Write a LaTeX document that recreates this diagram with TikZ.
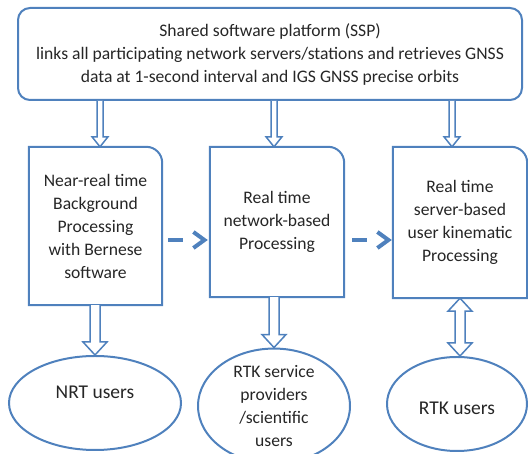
\documentclass[tikz,border=0pt]{standalone}
\usepackage{fontspec}
\setmainfont{Carlito}
\usetikzlibrary{calc,arrows.meta,shapes.geometric}
\definecolor{ob}{RGB}{79,129,189}
\newcommand\harrowdn[5]{%
  \draw[harrow] let \p1=(#1), \p2=(#2) in
    (\x2-#3,\y1) -- (\x2-#3,\y2+#5) -- (\x2-#4,\y2+#5) -- (\x2,\y2)
    -- (\x2+#4,\y2+#5) -- (\x2+#3,\y2+#5) -- (\x2+#3,\y1);}
\newcommand\procoutline[1]{%
  \draw[boxline] (#1.south west) -- (#1.north west) -- ([xshift=-16pt]#1.north east)
    arc[start angle=90,end angle=0,radius=16pt] -- (#1.south east) -- cycle;}
\begin{document}
\begin{tikzpicture}[x=1pt,y=1pt,
  every node/.style={font=\fontsize{17.6}{23}\selectfont, text=black!85},
  bigtext/.style={font=\fontsize{19.5}{23}\selectfont},
  topbox/.style={draw=ob, line width=2pt, rounded corners=12pt, minimum width=504pt, minimum height=92pt, align=center, inner sep=0pt},
  procbox/.style={align=center, inner sep=0pt},
  boxline/.style={draw=ob, line width=2pt},
  ell/.style={ellipse, draw=ob, line width=2pt, inner sep=0pt, align=center},
  harrow/.style={draw=ob, line width=1.5pt, fill=white, line join=miter},
  dasharrow/.style={draw=ob, line width=4pt, dash pattern=on 15pt off 80pt, -{Straight Barb[length=11pt,width=16pt]}}
]
\useasboundingbox (0,0) rectangle (528,454);

\node[topbox] (top) at (270,400) {Shared software platform (SSP)\\links all participating network servers/stations and retrieves GNSS\\data at 1-second interval and IGS GNSS precise orbits};

\node[procbox, minimum width=133pt, minimum height=158pt] (b1) at (95.5,228) {Near-real time\\Background\\Processing\\with Bernese\\software};
\node[procbox, minimum width=134pt, minimum height=150pt] (b2) at (277,232) {Real time\\network-based\\Processing};
\node[procbox, minimum width=134pt, minimum height=151pt] (b3) at (460,231.5) {Real time\\server-based\\user kinematic\\Processing};
\procoutline{b1}
\procoutline{b2}
\procoutline{b3}

\node[ell, minimum width=172pt, minimum height=94pt] (e1) at (95,51) {};
\node[bigtext] (t1) at ($(e1)+(0,11)$) {NRT users};
\node[ell, minimum width=152pt, minimum height=98pt] (e2) at (274,48) {RTK service\\providers\\/scientific\\users};
\node[ell, minimum width=140pt, minimum height=94pt] (e3) at (457,50) {};
\node[bigtext] (t3) at ($(e3)+(0,-4)$) {RTK users};

% top hollow arrows
\harrowdn{top.south}{$(b1.north)+(4.5,0)$}{3pt}{8pt}{10pt}
\harrowdn{top.south}{$(b2.north)+(-3,0)$}{3pt}{8pt}{10pt}
\harrowdn{top.south}{$(b3.north)+(-8,0)$}{3pt}{8pt}{10pt}

% bottom hollow arrows
\harrowdn{b1.south}{e1.north}{5pt}{12pt}{13pt}
\harrowdn{b2.south}{e2.north}{5pt}{12pt}{13pt}
\draw[harrow] let \p1=(b3.south), \p2=(e3.north) in
  (\x1,\y1) -- (\x1+12pt,\y1-13pt) -- (\x1+5pt,\y1-13pt) -- (\x1+5pt,\y2+13pt)
  -- (\x1+12pt,\y2+13pt) -- (\x1,\y2) -- (\x1-12pt,\y2+13pt) -- (\x1-5pt,\y2+13pt)
  -- (\x1-5pt,\y1-13pt) -- (\x1-12pt,\y1-13pt) -- cycle;

% dashed arrows
\draw[dasharrow] ($(b1.east)+(6,-14)$) -- ($(b2.west)+(-2,-18)$);
\draw[dasharrow] ($(b2.east)+(8,-18)$) -- ($(b3.west)+(-1,-17.5)$);
\end{tikzpicture}
\end{document}
